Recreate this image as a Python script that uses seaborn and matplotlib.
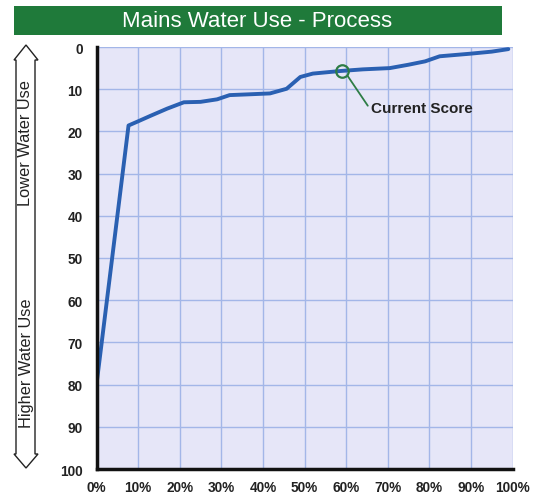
import matplotlib
matplotlib.use("Agg")
import matplotlib.pyplot as plt
import seaborn as sns
import pandas as pd
from matplotlib.patches import Polygon, Rectangle
from matplotlib.ticker import FuncFormatter

# ---- data ----
pct_x = [0, 7.7, 9.8, 13, 17, 21, 25, 29, 32, 37, 41.7, 45.7, 49, 52,
         58.5, 64, 70.5, 75, 79, 82.5, 89.7, 95, 99]
score_y = [80, 18.6, 17.7, 16.3, 14.6, 13.1, 13, 12.4, 11.4, 11.2, 11, 9.9,
           7.1, 6.3, 5.7, 5.3, 5, 4.2, 3.4, 2.2, 1.6, 1.1, 0.5]
current_x = [59]
current_y = [5.7]
x_ticks = [0, 10, 20, 30, 40, 50, 60, 70, 80, 90, 100]
y_ticks = [0, 10, 20, 30, 40, 50, 60, 70, 80, 90, 100]
title = "Mains Water Use - Process"
annot_text = "Current Score"
upper_label = "Lower Water Use"
lower_label = "Higher Water Use"

df = pd.DataFrame({"pct": pct_x, "score": score_y})

sns.set_theme(style="white")
plt.rcParams["font.family"] = ["Liberation Sans", "DejaVu Sans"]

W, H = 535, 502
fig = plt.figure(figsize=(W / 100, H / 100), dpi=100)

def fx(px):
    return px / W

def fy(py):
    return 1 - py / H

ax = fig.add_axes([fx(96.5), fy(470), fx(512.5) - fx(96.5), fy(48) - fy(470)])
ax.set_facecolor("#e6e6f8")

sns.lineplot(data=df, x="pct", y="score", ax=ax, color="#2a60b2",
             linewidth=2.8, zorder=3)

ax.set_xlim(0, 100)
ax.set_ylim(100, 0)
ax.set_xticks(x_ticks)
ax.set_yticks(y_ticks)
ax.xaxis.set_major_formatter(FuncFormatter(lambda v, p: f"{int(v)}%"))
ax.grid(True, color="#a3b6e8", linewidth=1.0, zorder=1)
ax.set_axisbelow(True)
ax.set_xlabel("")
ax.set_ylabel("")
ax.tick_params(axis="both", length=0, labelsize=9.8, colors="#222222")
ax.tick_params(axis="y", pad=10)
ax.tick_params(axis="x", pad=8)
for lab in ax.get_xticklabels() + ax.get_yticklabels():
    lab.set_fontweight("bold")
for s in ["top", "right"]:
    ax.spines[s].set_visible(False)
for s in ["left", "bottom"]:
    ax.spines[s].set_color("#111111")
    ax.spines[s].set_linewidth(2.5)
    ax.spines[s].set_zorder(4)

# current score marker and annotation
ax.plot(current_x, current_y, marker="o", markersize=9, markerfacecolor="none",
        markeredgecolor="#2e7d46", markeredgewidth=1.6, linestyle="none", zorder=5)
ax.annotate(annot_text, xy=(60.4, 6.9), xytext=(66, 14.4),
            fontsize=11, fontweight="bold", color="#222222",
            ha="left", va="center",
            arrowprops=dict(arrowstyle="-", color="#2e7d46", lw=1.3,
                            shrinkA=0, shrinkB=0, relpos=(0, 0.3)))

# title bar
fig.patches.append(Rectangle((fx(14), fy(36)), fx(502) - fx(14), fy(7) - fy(36),
                             transform=fig.transFigure, facecolor="#1f7a3a",
                             edgecolor="none"))
fig.text(fx(257), fy(21.5), title, color="white", fontsize=16,
         ha="center", va="center")

# left double-headed arrow
pts = [(26, 46), (38, 61), (35, 61), (35, 455), (38, 455), (26, 469),
       (14, 455), (16, 455), (16, 61), (14, 61)]
poly = Polygon([(fx(x), fy(y)) for x, y in pts], closed=True,
               transform=fig.transFigure, facecolor="white",
               edgecolor="#222222", linewidth=1.0)
fig.patches.append(poly)
fig.text(fx(26), fy(143), upper_label, rotation=90, fontsize=11.8,
         ha="center", va="center", color="#222222")
fig.text(fx(26), fy(363), lower_label, rotation=90, fontsize=11.8,
         ha="center", va="center", color="#222222")

fig.savefig("out.png", dpi=100)
